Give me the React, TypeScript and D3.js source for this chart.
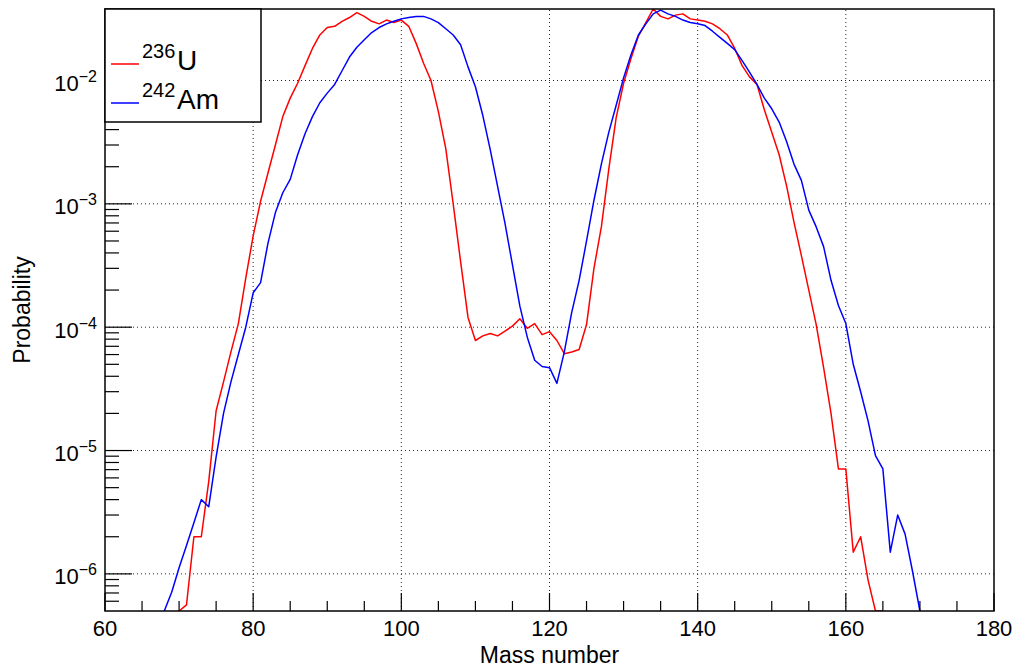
import React from 'react';
import * as d3 from 'd3';

const WIDTH = 1016;
const HEIGHT = 667;
const PLOT = { left: 105, right: 994, top: 9, bottom: 611 };

const massDomain: [number, number] = [60, 180];
const probDomain: [number, number] = [5e-7, 0.038];
const xMajorTicks = [60, 80, 100, 120, 140, 160, 180];
const xGridTicks = [80, 100, 120, 140, 160];
const yExponents = [-6, -5, -4, -3, -2];

const xTitle = 'Mass number';
const yTitle = 'Probability';

// 236U fission fragment mass yield, one value per mass number starting at 70
const u236StartMass = 70;
const u236Prob = [
  0, 5.6e-7, 2.0e-6, 2.0e-6, 5.6e-6, 2.1e-5, 3.6e-5, 6.3e-5, 1.07e-4, 2.5e-4,
  5.5e-4, 1.05e-3, 1.78e-3, 3.0e-3, 5.1e-3, 7.2e-3, 9.5e-3, 0.0132, 0.0182, 0.0234,
  0.0269, 0.0275, 0.0302, 0.0324, 0.0355, 0.0331, 0.0302, 0.0288, 0.0309, 0.0295,
  0.0309, 0.0275, 0.02, 0.0138, 0.01, 5.6e-3, 2.8e-3, 1.0e-3, 3.4e-4, 1.2e-4,
  7.8e-5, 8.5e-5, 8.9e-5, 8.5e-5, 9.3e-5, 1.02e-4, 1.17e-4, 9.8e-5, 1.07e-4, 8.7e-5,
  9.2e-5, 7.8e-5, 6.1e-5, 6.3e-5, 6.6e-5, 1.05e-4, 3.0e-4, 6.5e-4, 1.9e-3, 5.0e-3,
  9.5e-3, 0.0151, 0.0229, 0.0295, 0.038, 0.0331, 0.0316, 0.0339, 0.0347, 0.0316,
  0.0309, 0.0302, 0.0288, 0.0263, 0.0234, 0.0182, 0.0132, 0.0107, 9.3e-3, 5.8e-3,
  3.8e-3, 2.5e-3, 1.4e-3, 7.1e-4, 3.8e-4, 2.0e-4, 1.05e-4, 4.7e-5, 2.0e-5, 7.1e-6,
  7.1e-6, 1.5e-6, 2.0e-6, 8.9e-7, 0, 0,
];

// 242Am fission fragment mass yield, one value per mass number starting at 68
const am242StartMass = 68;
const am242Prob = [
  4.5e-7, 7.1e-7, 1.12e-6, 1.7e-6, 2.6e-6, 4.0e-6, 3.5e-6, 8.9e-6, 2.0e-5, 3.6e-5,
  6.0e-5, 1.0e-4, 1.9e-4, 2.3e-4, 4.8e-4, 8.5e-4, 1.23e-3, 1.58e-3, 2.5e-3, 3.7e-3,
  5.1e-3, 6.6e-3, 7.9e-3, 9.3e-3, 0.012, 0.0155, 0.0186, 0.0214, 0.0245, 0.0269,
  0.0288, 0.0302, 0.0316, 0.0324, 0.0331, 0.0331, 0.0316, 0.0295, 0.0263, 0.0234,
  0.0195, 0.0129, 8.9e-3, 5.2e-3, 2.75e-3, 1.38e-3, 6.9e-4, 3.2e-4, 1.48e-4, 8.3e-5,
  5.4e-5, 4.8e-5, 4.7e-5, 3.5e-5, 6.3e-5, 1.32e-4, 2.4e-4, 5.0e-4, 1.07e-3, 2.1e-3,
  3.8e-3, 6.3e-3, 0.0105, 0.0162, 0.0234, 0.0288, 0.0347, 0.0372, 0.0347, 0.0331,
  0.0309, 0.0295, 0.0288, 0.0279, 0.0251, 0.0224, 0.02, 0.0178, 0.0145, 0.0117,
  9.3e-3, 7.2e-3, 5.9e-3, 4.6e-3, 3.2e-3, 2.1e-3, 1.55e-3, 8.9e-4, 6.5e-4, 4.5e-4,
  2.4e-4, 1.5e-4, 1.07e-4, 5.0e-5, 3.0e-5, 1.74e-5, 9.1e-6, 7.1e-6, 1.5e-6, 3.0e-6,
  2.1e-6, 1.05e-6, 4.0e-7,
];

const series = [
  { name: 'U', sup: '236', start: u236StartMass, values: u236Prob, color: '#ff0000' },
  { name: 'Am', sup: '242', start: am242StartMass, values: am242Prob, color: '#0000ff' },
];

const FONT = '"Liberation Sans", Arial, Helvetica, sans-serif';

export default function App() {
  const x = d3.scaleLinear().domain(massDomain).range([PLOT.left, PLOT.right]);
  const y = d3.scaleLog().domain(probDomain).range([PLOT.bottom, PLOT.top]);

  const line = d3
    .line<[number, number]>()
    .x((d) => x(d[0]))
    .y((d) => y(Math.max(d[1], probDomain[0])));

  const xMinor = d3.range(massDomain[0], massDomain[1] + 0.001, 5).filter((v) => v % 20 !== 0);
  const yMinor: number[] = [];
  for (let k = -7; k <= -2; k++) {
    for (let m = 2; m <= 9; m++) {
      const v = m * Math.pow(10, k);
      if (v > probDomain[0] * 1.01 && v < probDomain[1]) yMinor.push(v);
    }
  }

  const plotW = PLOT.right - PLOT.left;
  const plotH = PLOT.bottom - PLOT.top;

  return (
    <svg
      width={WIDTH}
      height={HEIGHT}
      style={{ position: 'absolute', left: 0, top: 0, background: '#fff' }}
      fontFamily={FONT}
    >
      <defs>
        <clipPath id="plotClip">
          <rect x={PLOT.left} y={PLOT.top} width={plotW} height={plotH} />
        </clipPath>
      </defs>
      <rect x={0} y={0} width={WIDTH} height={HEIGHT} fill="#fff" />

      {/* grid */}
      <g stroke="#000" strokeWidth={1} strokeDasharray="1,3" opacity={0.85}>
        {xGridTicks.map((t) => (
          <line key={'gx' + t} x1={x(t)} x2={x(t)} y1={PLOT.bottom} y2={PLOT.top} />
        ))}
        {yExponents.map((e) => (
          <line key={'gy' + e} x1={PLOT.left} x2={PLOT.right} y1={y(Math.pow(10, e))} y2={y(Math.pow(10, e))} />
        ))}
      </g>

      {/* curves */}
      <g clipPath="url(#plotClip)" fill="none" strokeWidth={1.5} strokeLinejoin="round">
        {series.map((s) => {
          const pts: [number, number][] = s.values.map((v, i) => [s.start + i, v]);
          return <path key={s.name} d={line(pts) || ''} stroke={s.color} />;
        })}
      </g>

      {/* ticks */}
      <g stroke="#000" strokeWidth={1.2}>
        {xMajorTicks.map((t) => (
          <line key={'xM' + t} x1={x(t)} x2={x(t)} y1={PLOT.bottom} y2={PLOT.bottom - 18} />
        ))}
        {xMinor.map((t) => (
          <line key={'xm' + t} x1={x(t)} x2={x(t)} y1={PLOT.bottom} y2={PLOT.bottom - 10} />
        ))}
        {yExponents.map((e) => (
          <line key={'yM' + e} x1={PLOT.left} x2={PLOT.left + 27} y1={y(Math.pow(10, e))} y2={y(Math.pow(10, e))} />
        ))}
        {yMinor.map((v, i) => (
          <line key={'ym' + i} x1={PLOT.left} x2={PLOT.left + 14} y1={y(v)} y2={y(v)} />
        ))}
      </g>

      {/* frame */}
      <rect x={PLOT.left} y={PLOT.top} width={plotW} height={plotH} fill="none" stroke="#000" strokeWidth={1.5} />

      {/* x tick labels */}
      <g fontSize={22} textAnchor="middle" fill="#000">
        {xMajorTicks.map((t) => (
          <text key={'xl' + t} x={x(t)} y={636}>
            {t}
          </text>
        ))}
      </g>

      {/* y tick labels */}
      <g fill="#000" textAnchor="end">
        {yExponents.map((e) => (
          <text key={'yl' + e} x={97} y={y(Math.pow(10, e)) + 10.5} fontSize={22}>
            <tspan>10</tspan>
            <tspan dy={-9} fontSize={16}>
              {'\u2212' + Math.abs(e)}
            </tspan>
          </text>
        ))}
      </g>

      {/* axis titles */}
      <text x={(PLOT.left + PLOT.right) / 2} y={663} fontSize={23} textAnchor="middle" fill="#000">
        {xTitle}
      </text>
      <text
        transform={`translate(30, ${(PLOT.top + PLOT.bottom) / 2}) rotate(-90)`}
        fontSize={23}
        textAnchor="middle"
        fill="#000"
      >
        {yTitle}
      </text>

      {/* legend */}
      <g>
        <rect x={PLOT.left} y={PLOT.top} width={156} height={113} fill="#fff" stroke="#000" strokeWidth={1.5} />
        {series.map((s, i) => {
          const ly = 64 + i * 39;
          return (
            <g key={'lg' + s.name}>
              <line x1={111} x2={139} y1={ly} y2={ly} stroke={s.color} strokeWidth={1.5} />
              <text x={142} y={ly - 6} fontSize={20} fill="#000">
                {s.sup}
              </text>
              <text x={177} y={ly + 5.5} fontSize={28} fill="#000">
                {s.name}
              </text>
            </g>
          );
        })}
      </g>
    </svg>
  );
}
